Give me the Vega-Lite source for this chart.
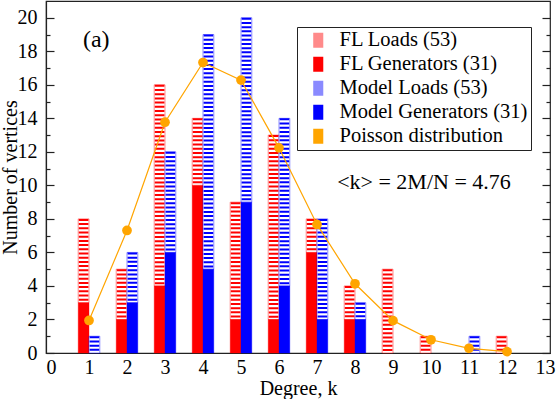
{
  "$schema": "https://vega.github.io/schema/vega-lite/v6.json",
  "width": 504,
  "height": 352,
  "autosize": {"type": "none"},
  "padding": {"left": 46, "top": 1, "right": 10, "bottom": 46},
  "background": "white",
  "config": {
    "view": {"stroke": "#222", "strokeWidth": 1.2},
    "font": "Liberation Serif",
    "axis": {
      "grid": false,
      "labelFont": "Liberation Serif",
      "titleFont": "Liberation Serif",
      "labelFontSize": 20,
      "titleFontSize": 20,
      "titleFontWeight": "normal",
      "labelColor": "black",
      "titleColor": "black",
      "domainColor": "#222",
      "domainWidth": 1.2,
      "tickColor": "#222",
      "tickWidth": 1.2,
      "labelFlush": false,
      "labelOverlap": false
    }
  },
  "datasets": {
    "bars": [
      {"k": 1, "src": "FL", "gen": 3, "total": 8},
      {"k": 2, "src": "FL", "gen": 2, "total": 5},
      {"k": 3, "src": "FL", "gen": 4, "total": 16},
      {"k": 4, "src": "FL", "gen": 10, "total": 14},
      {"k": 5, "src": "FL", "gen": 2, "total": 9},
      {"k": 6, "src": "FL", "gen": 2, "total": 13},
      {"k": 7, "src": "FL", "gen": 6, "total": 8},
      {"k": 8, "src": "FL", "gen": 2, "total": 4},
      {"k": 9, "src": "FL", "gen": 0, "total": 5},
      {"k": 10, "src": "FL", "gen": 0, "total": 1},
      {"k": 11, "src": "FL", "gen": 0, "total": 0},
      {"k": 12, "src": "FL", "gen": 0, "total": 1},
      {"k": 1, "src": "Model", "gen": 0, "total": 1},
      {"k": 2, "src": "Model", "gen": 3, "total": 6},
      {"k": 3, "src": "Model", "gen": 6, "total": 12},
      {"k": 4, "src": "Model", "gen": 5, "total": 19},
      {"k": 5, "src": "Model", "gen": 9, "total": 20},
      {"k": 6, "src": "Model", "gen": 4, "total": 14},
      {"k": 7, "src": "Model", "gen": 2, "total": 8},
      {"k": 8, "src": "Model", "gen": 2, "total": 3},
      {"k": 9, "src": "Model", "gen": 0, "total": 0},
      {"k": 10, "src": "Model", "gen": 0, "total": 0},
      {"k": 11, "src": "Model", "gen": 0, "total": 1},
      {"k": 12, "src": "Model", "gen": 0, "total": 0}
    ],
    "poisson": [
      {"k": 1, "p": 1.94},
      {"k": 2, "p": 7.31},
      {"k": 3, "p": 13.77},
      {"k": 4, "p": 17.33},
      {"k": 5, "p": 16.28},
      {"k": 6, "p": 12.24},
      {"k": 7, "p": 7.67},
      {"k": 8, "p": 4.13},
      {"k": 9, "p": 1.93},
      {"k": 10, "p": 0.79},
      {"k": 11, "p": 0.28},
      {"k": 12, "p": 0.08}
    ]
  },
  "resolve": {"axis": {"y": "independent"}},
  "layer": [
    {
      "layer": [
        {
          "data": {"name": "bars"},
          "transform": [{"filter": "datum.src == 'FL' && datum.total > datum.gen"}],
          "mark": {"type": "bar", "fill": "white", "stroke": "#ff0000", "strokeOpacity": 0.45, "strokeWidth": 1, "width": 10.8, "xOffset": -5.4},
          "encoding": {
            "x": {"field": "k", "type": "quantitative", "scale": {"domain": [0, 13], "nice": false},
              "axis": {"values": [0,1,2,3,4,5,6,7,8,9,10,11,12,13], "ticks": false, "labelPadding": 4, "labelOverlap": false, "labelFlush": false, "title": "Degree, k", "titlePadding": 1}},
            "y": {"field": "total", "type": "quantitative", "scale": {"domain": [0, 21], "nice": false, "zero": true},
              "axis": {"orient": "left", "values": [0,1,2,3,4,5,6,7,8,9,10,11,12,13,14,15,16,17,18,19,20], "tickSize": {"condition": {"test": "datum.value % 2 == 1", "value": -4}, "value": -8}, "labelExpr": "datum.value % 2 == 0 ? datum.label : ''", "labelOverlap": false, "labelFlush": false, "labelPadding": 17, "title": "Number of vertices", "titlePadding": -3}},
            "y2": {"field": "gen"}
          }
        },
        {
          "data": {"name": "bars"},
          "transform": [{"filter": "datum.src == 'FL' && datum.total > datum.gen"}],
          "mark": {"type": "rule", "color": "#ff0000", "strokeWidth": 9.6, "strokeDash": [2, 2.2], "strokeCap": "butt", "xOffset": -5.4},
          "encoding": {
            "x": {"field": "k", "type": "quantitative",
              "axis": {"values": [0,1,2,3,4,5,6,7,8,9,10,11,12,13], "ticks": false, "labelPadding": 4, "labelOverlap": false, "labelFlush": false, "title": "Degree, k", "titlePadding": 1}},
            "y": {"field": "total", "type": "quantitative",
              "axis": {"orient": "left", "values": [0,1,2,3,4,5,6,7,8,9,10,11,12,13,14,15,16,17,18,19,20], "tickSize": {"condition": {"test": "datum.value % 2 == 1", "value": -4}, "value": -8}, "labelExpr": "datum.value % 2 == 0 ? datum.label : ''", "labelOverlap": false, "labelFlush": false, "labelPadding": 17, "title": "Number of vertices", "titlePadding": -3}},
            "y2": {"field": "gen"}
          }
        },
        {
          "data": {"name": "bars"},
          "transform": [{"filter": "datum.src == 'FL' && datum.gen > 0"}],
          "mark": {"type": "bar", "fill": "#ff0000", "stroke": "#ff0000", "strokeOpacity": 0.35, "strokeWidth": 1, "width": 10.8, "xOffset": -5.4},
          "encoding": {
            "x": {"field": "k", "type": "quantitative",
              "axis": {"values": [0,1,2,3,4,5,6,7,8,9,10,11,12,13], "ticks": false, "labelPadding": 4, "labelOverlap": false, "labelFlush": false, "title": "Degree, k", "titlePadding": 1}},
            "y": {"field": "gen", "type": "quantitative",
              "axis": {"orient": "left", "values": [0,1,2,3,4,5,6,7,8,9,10,11,12,13,14,15,16,17,18,19,20], "tickSize": {"condition": {"test": "datum.value % 2 == 1", "value": -4}, "value": -8}, "labelExpr": "datum.value % 2 == 0 ? datum.label : ''", "labelOverlap": false, "labelFlush": false, "labelPadding": 17, "title": "Number of vertices", "titlePadding": -3}}
          }
        },
        {
          "data": {"name": "bars"},
          "transform": [{"filter": "datum.src == 'Model' && datum.total > datum.gen"}],
          "mark": {"type": "bar", "fill": "white", "stroke": "#0000ff", "strokeOpacity": 0.45, "strokeWidth": 1, "width": 10.8, "xOffset": 5.4},
          "encoding": {
            "x": {"field": "k", "type": "quantitative",
              "axis": {"values": [0,1,2,3,4,5,6,7,8,9,10,11,12,13], "ticks": false, "labelPadding": 4, "labelOverlap": false, "labelFlush": false, "title": "Degree, k", "titlePadding": 1}},
            "y": {"field": "total", "type": "quantitative",
              "axis": {"orient": "left", "values": [0,1,2,3,4,5,6,7,8,9,10,11,12,13,14,15,16,17,18,19,20], "tickSize": {"condition": {"test": "datum.value % 2 == 1", "value": -4}, "value": -8}, "labelExpr": "datum.value % 2 == 0 ? datum.label : ''", "labelOverlap": false, "labelFlush": false, "labelPadding": 17, "title": "Number of vertices", "titlePadding": -3}},
            "y2": {"field": "gen"}
          }
        },
        {
          "data": {"name": "bars"},
          "transform": [{"filter": "datum.src == 'Model' && datum.total > datum.gen"}],
          "mark": {"type": "rule", "color": "#0000ff", "strokeWidth": 9.6, "strokeDash": [2, 2.2], "strokeCap": "butt", "xOffset": 5.4},
          "encoding": {
            "x": {"field": "k", "type": "quantitative",
              "axis": {"values": [0,1,2,3,4,5,6,7,8,9,10,11,12,13], "ticks": false, "labelPadding": 4, "labelOverlap": false, "labelFlush": false, "title": "Degree, k", "titlePadding": 1}},
            "y": {"field": "total", "type": "quantitative",
              "axis": {"orient": "left", "values": [0,1,2,3,4,5,6,7,8,9,10,11,12,13,14,15,16,17,18,19,20], "tickSize": {"condition": {"test": "datum.value % 2 == 1", "value": -4}, "value": -8}, "labelExpr": "datum.value % 2 == 0 ? datum.label : ''", "labelOverlap": false, "labelFlush": false, "labelPadding": 17, "title": "Number of vertices", "titlePadding": -3}},
            "y2": {"field": "gen"}
          }
        },
        {
          "data": {"name": "bars"},
          "transform": [{"filter": "datum.src == 'Model' && datum.gen > 0"}],
          "mark": {"type": "bar", "fill": "#0000ff", "stroke": "#0000ff", "strokeOpacity": 0.35, "strokeWidth": 1, "width": 10.8, "xOffset": 5.4},
          "encoding": {
            "x": {"field": "k", "type": "quantitative",
              "axis": {"values": [0,1,2,3,4,5,6,7,8,9,10,11,12,13], "ticks": false, "labelPadding": 4, "labelOverlap": false, "labelFlush": false, "title": "Degree, k", "titlePadding": 1}},
            "y": {"field": "gen", "type": "quantitative",
              "axis": {"orient": "left", "values": [0,1,2,3,4,5,6,7,8,9,10,11,12,13,14,15,16,17,18,19,20], "tickSize": {"condition": {"test": "datum.value % 2 == 1", "value": -4}, "value": -8}, "labelExpr": "datum.value % 2 == 0 ? datum.label : ''", "labelOverlap": false, "labelFlush": false, "labelPadding": 17, "title": "Number of vertices", "titlePadding": -3}}
          }
        },
        {
          "data": {"name": "poisson"},
          "mark": {"type": "line", "color": "#ffa500", "strokeWidth": 1.2},
          "encoding": {
            "x": {"field": "k", "type": "quantitative",
              "axis": {"values": [0,1,2,3,4,5,6,7,8,9,10,11,12,13], "ticks": false, "labelPadding": 4, "labelOverlap": false, "labelFlush": false, "title": "Degree, k", "titlePadding": 1}},
            "y": {"field": "p", "type": "quantitative",
              "axis": {"orient": "left", "values": [0,1,2,3,4,5,6,7,8,9,10,11,12,13,14,15,16,17,18,19,20], "tickSize": {"condition": {"test": "datum.value % 2 == 1", "value": -4}, "value": -8}, "labelExpr": "datum.value % 2 == 0 ? datum.label : ''", "labelOverlap": false, "labelFlush": false, "labelPadding": 17, "title": "Number of vertices", "titlePadding": -3}}
          }
        },
        {
          "data": {"name": "poisson"},
          "mark": {"type": "point", "filled": true, "size": 95, "opacity": 1, "strokeWidth": 0},
          "encoding": {
            "x": {"field": "k", "type": "quantitative",
              "axis": {"values": [0,1,2,3,4,5,6,7,8,9,10,11,12,13], "ticks": false, "labelPadding": 4, "labelOverlap": false, "labelFlush": false, "title": "Degree, k", "titlePadding": 1}},
            "y": {"field": "p", "type": "quantitative",
              "axis": {"orient": "left", "values": [0,1,2,3,4,5,6,7,8,9,10,11,12,13,14,15,16,17,18,19,20], "tickSize": {"condition": {"test": "datum.value % 2 == 1", "value": -4}, "value": -8}, "labelExpr": "datum.value % 2 == 0 ? datum.label : ''", "labelOverlap": false, "labelFlush": false, "labelPadding": 17, "title": "Number of vertices", "titlePadding": -3}},
            "color": {
              "datum": "Poisson distribution",
              "type": "nominal",
              "scale": {
                "domain": ["FL Loads (53)", "FL Generators (31)", "Model Loads (53)", "Model Generators (31)", "Poisson distribution"],
                "range": ["#ff8a8a", "#ff0000", "#8a8aff", "#0000ff", "#ffa500"]
              },
              "legend": {
                "orient": "none",
                "legendX": 251,
                "legendY": 26,
                "title": null,
                "padding": 3,
                "strokeColor": "#222",
                "fillColor": "white",
                "labelFont": "Liberation Serif",
                "labelFontSize": 20.5,
                "labelColor": "black",
                "labelLimit": 400,
                "symbolSize": 225,
                "symbolType": "M-0.67,-1H0.67V1H-0.67Z",
                "symbolOffset": 8,
                "labelOffset": 11,
                "rowPadding": 3,
                "symbolOpacity": 1,
                "symbolStrokeWidth": 0
              }
            }
          }
        },
        {
          "data": {"values": [{"t": "(a)"}]},
          "mark": {"type": "text", "font": "Liberation Serif", "fontSize": 24, "align": "center", "baseline": "middle", "color": "black"},
          "encoding": {
            "x": {"datum": 1.19, "type": "quantitative",
              "axis": {"values": [0,1,2,3,4,5,6,7,8,9,10,11,12,13], "ticks": false, "labelPadding": 4, "labelOverlap": false, "labelFlush": false, "title": "Degree, k", "titlePadding": 1}},
            "y": {"datum": 18.7, "type": "quantitative",
              "axis": {"orient": "left", "values": [0,1,2,3,4,5,6,7,8,9,10,11,12,13,14,15,16,17,18,19,20], "tickSize": {"condition": {"test": "datum.value % 2 == 1", "value": -4}, "value": -8}, "labelExpr": "datum.value % 2 == 0 ? datum.label : ''", "labelOverlap": false, "labelFlush": false, "labelPadding": 17, "title": "Number of vertices", "titlePadding": -3}},
            "text": {"field": "t"}
          }
        }
      ]
    },
    {
      "data": {"values": [{"t": "<k> = 2M/N = 4.76"}]},
      "mark": {"type": "text", "font": "Liberation Serif", "fontSize": 22, "align": "left", "baseline": "middle", "color": "black"},
      "encoding": {
        "x": {"datum": 7.53, "type": "quantitative",
          "axis": {"values": [0,1,2,3,4,5,6,7,8,9,10,11,12,13], "ticks": false, "labelPadding": 4, "labelOverlap": false, "labelFlush": false, "title": "Degree, k", "titlePadding": 1}},
        "y": {"datum": 10.2, "type": "quantitative",
          "axis": {"orient": "right", "values": [0,1,2,3,4,5,6,7,8,9,10,11,12,13,14,15,16,17,18,19,20],
            "tickSize": {"condition": {"test": "datum.value % 2 == 1", "value": -4}, "value": -8},
            "labels": false, "domain": false, "title": null}},
        "text": {"field": "t"}
      }
    }
  ]
}
